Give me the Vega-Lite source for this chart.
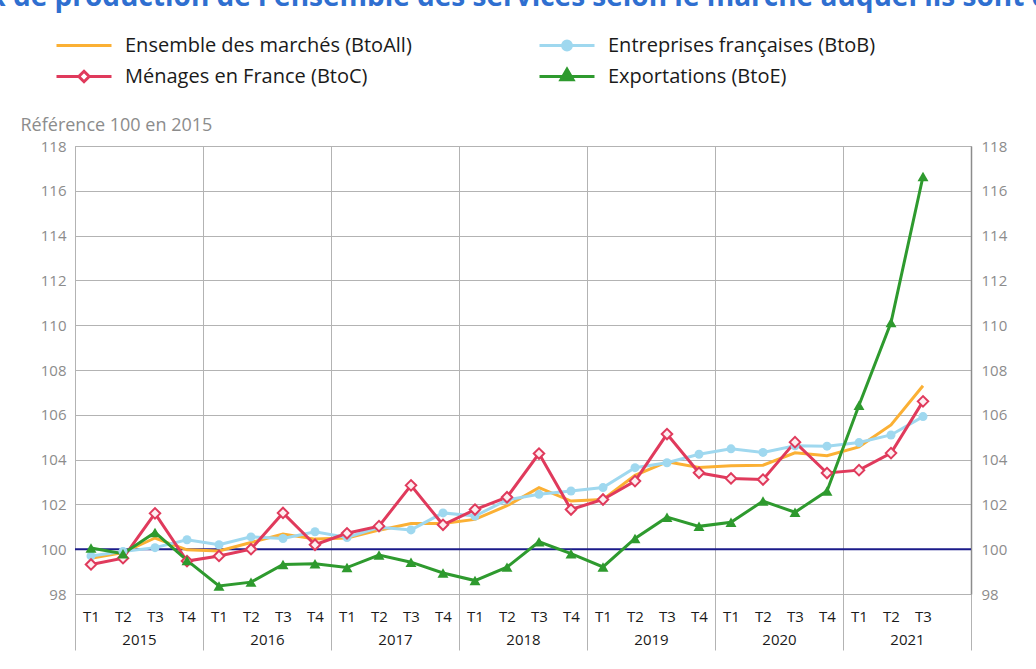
{
  "$schema": "https://vega.github.io/schema/vega-lite/v6.json",
  "width": 896,
  "height": 448,
  "autosize": {"type": "none"},
  "padding": {"left": 75, "top": 146, "right": 65, "bottom": 75},
  "title": {
    "text": "Indices de prix de production de l'ensemble des services selon le marché auquel ils sont destinés",
    "color": "#2f6fd0",
    "fontSize": 28,
    "fontWeight": "bold",
    "font": "Open Sans",
    "anchor": "start",
    "frame": "group",
    "offset": 0,
    "dx": -272,
    "dy": -18
  },
  "config": {
    "font": "Open Sans",
    "view": {"stroke": "#b3b3b3"},
    "axis": {"labelFont": "Open Sans", "labelFontSize": 15, "titleFont": "Open Sans"}
  },
  "data": {
    "values": [
      {"q": "2015-T1", "s": "BtoAll", "v": 99.6},
      {"q": "2015-T2", "s": "BtoAll", "v": 99.85},
      {"q": "2015-T3", "s": "BtoAll", "v": 100.5},
      {"q": "2015-T4", "s": "BtoAll", "v": 99.97},
      {"q": "2016-T1", "s": "BtoAll", "v": 99.92},
      {"q": "2016-T2", "s": "BtoAll", "v": 100.3},
      {"q": "2016-T3", "s": "BtoAll", "v": 100.68},
      {"q": "2016-T4", "s": "BtoAll", "v": 100.45},
      {"q": "2017-T1", "s": "BtoAll", "v": 100.5},
      {"q": "2017-T2", "s": "BtoAll", "v": 100.85},
      {"q": "2017-T3", "s": "BtoAll", "v": 101.15},
      {"q": "2017-T4", "s": "BtoAll", "v": 101.15},
      {"q": "2018-T1", "s": "BtoAll", "v": 101.33},
      {"q": "2018-T2", "s": "BtoAll", "v": 101.94},
      {"q": "2018-T3", "s": "BtoAll", "v": 102.75},
      {"q": "2018-T4", "s": "BtoAll", "v": 102.15},
      {"q": "2019-T1", "s": "BtoAll", "v": 102.22},
      {"q": "2019-T2", "s": "BtoAll", "v": 103.3},
      {"q": "2019-T3", "s": "BtoAll", "v": 103.9},
      {"q": "2019-T4", "s": "BtoAll", "v": 103.65},
      {"q": "2020-T1", "s": "BtoAll", "v": 103.72},
      {"q": "2020-T2", "s": "BtoAll", "v": 103.75},
      {"q": "2020-T3", "s": "BtoAll", "v": 104.3},
      {"q": "2020-T4", "s": "BtoAll", "v": 104.17},
      {"q": "2021-T1", "s": "BtoAll", "v": 104.57},
      {"q": "2021-T2", "s": "BtoAll", "v": 105.55},
      {"q": "2021-T3", "s": "BtoAll", "v": 107.3},
      {"q": "2015-T1", "s": "BtoB", "v": 99.7},
      {"q": "2015-T2", "s": "BtoB", "v": 99.9},
      {"q": "2015-T3", "s": "BtoB", "v": 100.07},
      {"q": "2015-T4", "s": "BtoB", "v": 100.42},
      {"q": "2016-T1", "s": "BtoB", "v": 100.2},
      {"q": "2016-T2", "s": "BtoB", "v": 100.55},
      {"q": "2016-T3", "s": "BtoB", "v": 100.48},
      {"q": "2016-T4", "s": "BtoB", "v": 100.78},
      {"q": "2017-T1", "s": "BtoB", "v": 100.52},
      {"q": "2017-T2", "s": "BtoB", "v": 100.98},
      {"q": "2017-T3", "s": "BtoB", "v": 100.86},
      {"q": "2017-T4", "s": "BtoB", "v": 101.62},
      {"q": "2018-T1", "s": "BtoB", "v": 101.48},
      {"q": "2018-T2", "s": "BtoB", "v": 102.2},
      {"q": "2018-T3", "s": "BtoB", "v": 102.45},
      {"q": "2018-T4", "s": "BtoB", "v": 102.6},
      {"q": "2019-T1", "s": "BtoB", "v": 102.75},
      {"q": "2019-T2", "s": "BtoB", "v": 103.64},
      {"q": "2019-T3", "s": "BtoB", "v": 103.86},
      {"q": "2019-T4", "s": "BtoB", "v": 104.24},
      {"q": "2020-T1", "s": "BtoB", "v": 104.48},
      {"q": "2020-T2", "s": "BtoB", "v": 104.32},
      {"q": "2020-T3", "s": "BtoB", "v": 104.62},
      {"q": "2020-T4", "s": "BtoB", "v": 104.6},
      {"q": "2021-T1", "s": "BtoB", "v": 104.76},
      {"q": "2021-T2", "s": "BtoB", "v": 105.1},
      {"q": "2021-T3", "s": "BtoB", "v": 105.92},
      {"q": "2015-T1", "s": "BtoC", "v": 99.32},
      {"q": "2015-T2", "s": "BtoC", "v": 99.6},
      {"q": "2015-T3", "s": "BtoC", "v": 101.6},
      {"q": "2015-T4", "s": "BtoC", "v": 99.47},
      {"q": "2016-T1", "s": "BtoC", "v": 99.7},
      {"q": "2016-T2", "s": "BtoC", "v": 100.0},
      {"q": "2016-T3", "s": "BtoC", "v": 101.62},
      {"q": "2016-T4", "s": "BtoC", "v": 100.2},
      {"q": "2017-T1", "s": "BtoC", "v": 100.71},
      {"q": "2017-T2", "s": "BtoC", "v": 101.03},
      {"q": "2017-T3", "s": "BtoC", "v": 102.85},
      {"q": "2017-T4", "s": "BtoC", "v": 101.09},
      {"q": "2018-T1", "s": "BtoC", "v": 101.77},
      {"q": "2018-T2", "s": "BtoC", "v": 102.32},
      {"q": "2018-T3", "s": "BtoC", "v": 104.27},
      {"q": "2018-T4", "s": "BtoC", "v": 101.77},
      {"q": "2019-T1", "s": "BtoC", "v": 102.22},
      {"q": "2019-T2", "s": "BtoC", "v": 103.04},
      {"q": "2019-T3", "s": "BtoC", "v": 105.14},
      {"q": "2019-T4", "s": "BtoC", "v": 103.41},
      {"q": "2020-T1", "s": "BtoC", "v": 103.16},
      {"q": "2020-T2", "s": "BtoC", "v": 103.11},
      {"q": "2020-T3", "s": "BtoC", "v": 104.78},
      {"q": "2020-T4", "s": "BtoC", "v": 103.4},
      {"q": "2021-T1", "s": "BtoC", "v": 103.53},
      {"q": "2021-T2", "s": "BtoC", "v": 104.29},
      {"q": "2021-T3", "s": "BtoC", "v": 106.6},
      {"q": "2015-T1", "s": "BtoE", "v": 100.05},
      {"q": "2015-T2", "s": "BtoE", "v": 99.8},
      {"q": "2015-T3", "s": "BtoE", "v": 100.75},
      {"q": "2015-T4", "s": "BtoE", "v": 99.5},
      {"q": "2016-T1", "s": "BtoE", "v": 98.36},
      {"q": "2016-T2", "s": "BtoE", "v": 98.53},
      {"q": "2016-T3", "s": "BtoE", "v": 99.32},
      {"q": "2016-T4", "s": "BtoE", "v": 99.35},
      {"q": "2017-T1", "s": "BtoE", "v": 99.18},
      {"q": "2017-T2", "s": "BtoE", "v": 99.74},
      {"q": "2017-T3", "s": "BtoE", "v": 99.42},
      {"q": "2017-T4", "s": "BtoE", "v": 98.94},
      {"q": "2018-T1", "s": "BtoE", "v": 98.6},
      {"q": "2018-T2", "s": "BtoE", "v": 99.2},
      {"q": "2018-T3", "s": "BtoE", "v": 100.33},
      {"q": "2018-T4", "s": "BtoE", "v": 99.8},
      {"q": "2019-T1", "s": "BtoE", "v": 99.21},
      {"q": "2019-T2", "s": "BtoE", "v": 100.48},
      {"q": "2019-T3", "s": "BtoE", "v": 101.43},
      {"q": "2019-T4", "s": "BtoE", "v": 101.02},
      {"q": "2020-T1", "s": "BtoE", "v": 101.2},
      {"q": "2020-T2", "s": "BtoE", "v": 102.15},
      {"q": "2020-T3", "s": "BtoE", "v": 101.65},
      {"q": "2020-T4", "s": "BtoE", "v": 102.6},
      {"q": "2021-T1", "s": "BtoE", "v": 106.43},
      {"q": "2021-T2", "s": "BtoE", "v": 110.12},
      {"q": "2021-T3", "s": "BtoE", "v": 116.64}
    ]
  },
  "resolve": {"axis": {"x": "independent", "y": "independent"}},
  "layer": [
    {
      "data": {"values": [{"ref": 100}]},
      "mark": {"type": "rule", "color": "#1b1b8a", "strokeWidth": 2},
      "encoding": {
        "y": {"field": "ref", "type": "quantitative", "scale": {"domain": [98, 118], "nice": false, "zero": false}, "axis": null}
      }
    },
    {
      "mark": {"type": "line", "strokeWidth": 3},
      "encoding": {
        "x": {
          "field": "q", "type": "ordinal",
          "scale": {"type": "point", "padding": 0.5, "domain": ["2015-T1","2015-T2","2015-T3","2015-T4","2016-T1","2016-T2","2016-T3","2016-T4","2017-T1","2017-T2","2017-T3","2017-T4","2018-T1","2018-T2","2018-T3","2018-T4","2019-T1","2019-T2","2019-T3","2019-T4","2020-T1","2020-T2","2020-T3","2020-T4","2021-T1","2021-T2","2021-T3","2021-T4"]},
          "axis": {"orient": "bottom", "title": null, "labelExpr": "datum.value == '2021-T4' ? '' : slice(datum.value, 5)", "ticks": false, "domain": false, "grid": false, "labelPadding": 15, "labelColor": "#1a1a1a", "labelAngle": 0, "labelOverlap": false}
        },
        "y": {
          "field": "v", "type": "quantitative",
          "scale": {"domain": [98, 118], "nice": false, "zero": false},
          "axis": {"orient": "left", "values": [98,100,102,104,106,108,110,112,114,116,118], "title": "Référence 100 en 2015", "titleAngle": 0, "titleAlign": "left", "titleBaseline": "alphabetic", "titleX": -55, "titleY": -16, "titleColor": "#8c8c8c", "titleFontSize": 18, "titleFontWeight": "normal", "ticks": false, "domain": false, "grid": true, "gridColor": "#b3b3b3", "labelColor": "#8c8c8c", "labelPadding": 9}
        },
        "stroke": {
          "field": "s", "type": "nominal",
          "scale": {"domain": ["BtoAll","BtoB","BtoC","BtoE"], "range": ["#fbb034","#9fd8ef","#e03a5c","#2e9a2e"]},
          "legend": {
            "title": null,
            "orient": "none",
            "direction": "horizontal",
            "legendX": -20,
            "legendY": -116,
            "columns": 2,
            "columnPadding": 126,
            "rowPadding": 0,
            "clipHeight": 31,
            "symbolType": "M-1,0L1,0",
            "symbolSize": 3025,
            "symbolStrokeWidth": 3,
            "labelFont": "Open Sans",
            "labelFontSize": 20,
            "labelColor": "#1a1a1a",
            "labelOffset": 12,
            "labelLimit": 600,
            "labelExpr": "datum.label == 'BtoAll' ? 'Ensemble des marchés (BtoAll)' : datum.label == 'BtoB' ? 'Entreprises françaises (BtoB)' : datum.label == 'BtoC' ? 'Ménages en France (BtoC)' : 'Exportations (BtoE)'",
            "encode": {
              "symbols": {
                "update": {
                  "shape": {"signal": "datum.value == 'BtoB' ? 'M-1,0L1,0M0.16,0A0.16,0.16,0,1,1,-0.16,0A0.16,0.16,0,1,1,0.16,0Z' : datum.value == 'BtoC' ? 'M-1,0L-0.19,0M0.19,0L1,0M0,-0.19L0.19,0L0,0.19L-0.19,0Z' : datum.value == 'BtoE' ? 'M-1,0L1,0M-0.22,0.12L0.22,0.12L0,-0.26Z' : 'M-1,0L1,0'"},
                  "fill": {"signal": "datum.value == 'BtoB' ? '#9fd8ef' : datum.value == 'BtoC' ? '#ffffff' : datum.value == 'BtoE' ? '#2e9a2e' : 'transparent'"}
                }
              }
            }
          }
        }
      }
    },
    {
      "transform": [{"filter": "datum.s == 'BtoB'"}],
      "mark": {"type": "point", "shape": "circle", "filled": true, "size": 81, "color": "#9fd8ef", "opacity": 1},
      "encoding": {
        "x": {
          "field": "q", "type": "ordinal",
          "scale": {"type": "point", "padding": 0.5, "domain": ["2015-T1","2015-T2","2015-T3","2015-T4","2016-T1","2016-T2","2016-T3","2016-T4","2017-T1","2017-T2","2017-T3","2017-T4","2018-T1","2018-T2","2018-T3","2018-T4","2019-T1","2019-T2","2019-T3","2019-T4","2020-T1","2020-T2","2020-T3","2020-T4","2021-T1","2021-T2","2021-T3","2021-T4"]},
          "axis": {"orient": "bottom", "title": null, "values": ["2015-T1","2016-T1","2017-T1","2018-T1","2019-T1","2020-T1","2021-T1"], "tickOffset": -16, "ticks": true, "tickSize": 56, "tickColor": "#b3b3b3", "grid": true, "gridColor": "#b3b3b3", "domain": false, "labelOffset": 64, "labelExpr": "slice(datum.value, 0, 4)", "labelPadding": -18, "labelColor": "#1a1a1a", "labelAngle": 0, "labelOverlap": false}
        },
        "y": {
          "field": "v", "type": "quantitative",
          "scale": {"domain": [98, 118], "nice": false, "zero": false},
          "axis": {"orient": "right", "values": [98,100,102,104,106,108,110,112,114,116,118], "title": null, "ticks": false, "domain": true, "domainColor": "#8c8c8c", "domainWidth": 1.5, "grid": false, "labelColor": "#8c8c8c", "labelPadding": 10}
        }
      }
    },
    {
      "transform": [{"filter": "datum.s == 'BtoC'"}],
      "mark": {"type": "point", "shape": "diamond", "filled": false, "size": 110, "stroke": "#e03a5c", "fill": "#fdeef1", "strokeWidth": 2, "opacity": 1},
      "encoding": {
        "x": {
          "field": "q", "type": "ordinal",
          "scale": {"type": "point", "padding": 0.5, "domain": ["2015-T1","2015-T2","2015-T3","2015-T4","2016-T1","2016-T2","2016-T3","2016-T4","2017-T1","2017-T2","2017-T3","2017-T4","2018-T1","2018-T2","2018-T3","2018-T4","2019-T1","2019-T2","2019-T3","2019-T4","2020-T1","2020-T2","2020-T3","2020-T4","2021-T1","2021-T2","2021-T3","2021-T4"]},
          "axis": {"orient": "bottom", "title": null, "values": ["2021-T4"], "tickOffset": 16, "ticks": true, "tickSize": 56, "tickColor": "#b3b3b3", "grid": false, "domain": false, "labels": false}
        },
        "y": {"field": "v", "type": "quantitative", "scale": {"domain": [98, 118], "nice": false, "zero": false}, "axis": null}
      }
    },
    {
      "transform": [{"filter": "datum.s == 'BtoE'"}],
      "mark": {"type": "point", "shape": "triangle-up", "filled": true, "size": 120, "color": "#2e9a2e", "opacity": 1},
      "encoding": {
        "x": {
          "field": "q", "type": "ordinal",
          "scale": {"type": "point", "padding": 0.5, "domain": ["2015-T1","2015-T2","2015-T3","2015-T4","2016-T1","2016-T2","2016-T3","2016-T4","2017-T1","2017-T2","2017-T3","2017-T4","2018-T1","2018-T2","2018-T3","2018-T4","2019-T1","2019-T2","2019-T3","2019-T4","2020-T1","2020-T2","2020-T3","2020-T4","2021-T1","2021-T2","2021-T3","2021-T4"]},
          "axis": null
        },
        "y": {"field": "v", "type": "quantitative", "scale": {"domain": [98, 118], "nice": false, "zero": false}, "axis": null}
      }
    }
  ]
}
